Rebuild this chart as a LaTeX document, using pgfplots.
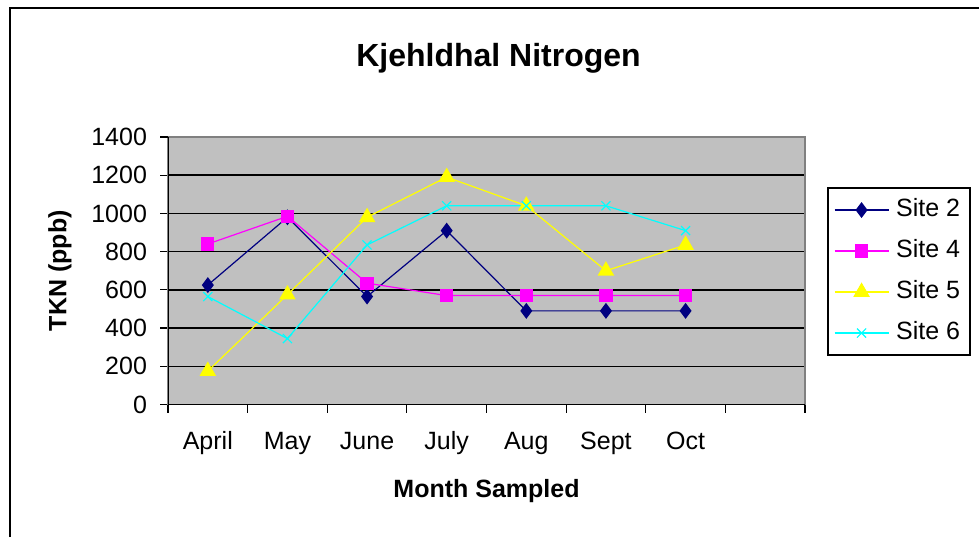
\documentclass[border=0pt]{standalone}
\usepackage{fontspec}
\setmainfont{Liberation Sans}
\usepackage{pgfplots}
\pgfplotsset{compat=1.18}
\definecolor{plotgray}{HTML}{C0C0C0}
\definecolor{bordergray}{HTML}{808080}
\definecolor{sitenavy}{HTML}{000080}
\definecolor{sitemag}{HTML}{FF00FF}
\definecolor{siteyel}{HTML}{FFFF00}
\definecolor{sitecyan}{HTML}{00FFFF}
\begin{document}
\begin{tikzpicture}[x=1pt,y=1pt]
\useasboundingbox (0,0) rectangle (489.5,268.5);
\draw[line width=1pt] (5,0) -- (5,264.5) -- (489.5,264.5);
\begin{axis}[
  at={(84pt,66.25pt)}, anchor=south west,
  scale only axis, width=318.5pt, height=133.75pt,
  xmin=-0.5, xmax=7.5, ymin=0, ymax=1400,
  axis background/.style={fill=plotgray},
  axis line style={bordergray, line width=0.6pt},
  ytick={0,200,...,1200},
  extra y ticks={1400}, extra y tick style={grid=none},
  ymajorgrids, grid style={black, line width=0.75pt},
  xtick={-0.5,0.5,...,7.5},
  x tick label as interval,
  xticklabels={April,May,June,July,Aug,Sept,Oct,{}},
  tick align=outside, major tick length=4pt,
  tick style={black, line width=0.6pt},
  xtick pos=bottom, ytick pos=left,
  /pgf/number format/assume math mode=true,
  /pgf/number format/1000 sep={},
  tick label style={font=\fontsize{12.5}{15}\selectfont},
  xticklabel style={text height=9pt, text depth=2.5pt, yshift=-6pt},
  yticklabel style={xshift=-3pt},
  xlabel={Month Sampled},
  xlabel style={at={(axis description cs:0.5,-0.3495)}, anchor=base, font=\fontsize{12.5}{15}\selectfont\bfseries},
  ylabel={TKN (ppb)},
  ylabel style={at={(axis description cs:-0.1695,0.5)}, anchor=center, font=\fontsize{12.5}{15}\selectfont\bfseries},
  legend style={at={(axis description cs:1.0345,0.813)}, anchor=north west,
    draw=black, line width=1pt, fill=white,
    font=\fontsize{12.5}{15}\selectfont,
    inner xsep=3pt, inner ysep=3.5pt, row sep=5.5pt,
    nodes={inner sep=2pt, text height=8.5pt, text depth=2.5pt},
    /tikz/every odd column/.append style={column sep=1.5pt},
    cells={anchor=west}},
  legend image code/.code={\draw[mark repeat=2,mark phase=2] plot coordinates {(0pt,0pt)(13.5pt,0pt)(27pt,0pt)};},
]
\addplot[sitenavy, line width=0.6pt, mark=diamond*, mark size=3.5pt, mark options={solid, fill=sitenavy}]
  coordinates {(0,625) (1,980) (2,565) (3,910) (4,490) (5,490) (6,490)};
\addlegendentry{Site 2}
\addplot[sitemag, line width=0.6pt, mark=square*, mark size=3pt, mark options={solid, fill=sitemag}]
  coordinates {(0,840) (1,985) (2,635) (3,570) (4,570) (5,570) (6,570)};
\addlegendentry{Site 4}
\addplot[siteyel, line width=0.6pt, mark=triangle*, mark size=4.2pt, mark options={solid, fill=siteyel}]
  coordinates {(0,175) (1,575) (2,980) (3,1190) (4,1040) (5,700) (6,835)};
\addlegendentry{Site 5}
\addplot[sitecyan, line width=0.6pt, mark=x, mark size=3.2pt, mark options={solid}]
  coordinates {(0,565) (1,345) (2,835) (3,1040) (4,1040) (5,1040) (6,910)};
\addlegendentry{Site 6}
\draw[black, line width=0.75pt] (rel axis cs:0,1) -- (rel axis cs:0,0) -- (rel axis cs:1,0);
\end{axis}
\node[anchor=base, font=\fontsize{16}{19}\selectfont\bfseries] at (249.25,235.2) {Kjehldhal Nitrogen};
\end{tikzpicture}
\end{document}
